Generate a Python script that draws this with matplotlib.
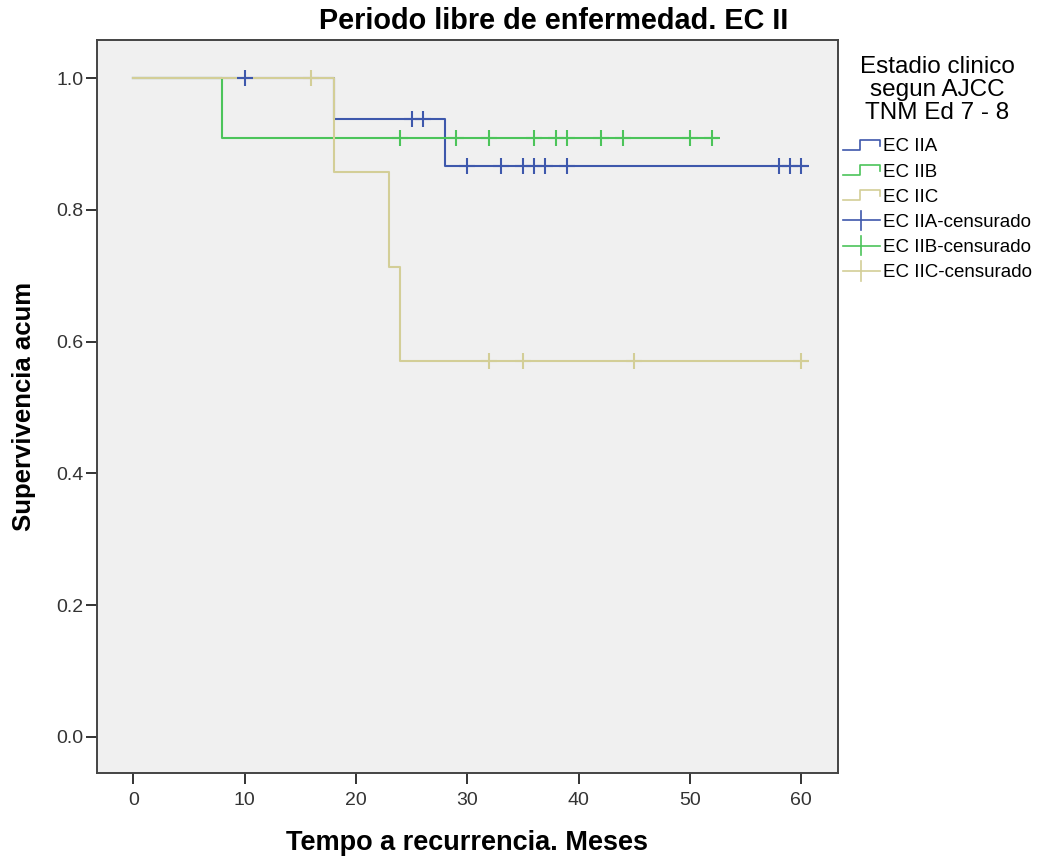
import numpy as np
import matplotlib.pyplot as plt
from matplotlib.legend_handler import HandlerBase
from matplotlib.lines import Line2D

# datos (Kaplan-Meier)
grupos = ["EC IIA", "EC IIB", "EC IIC"]
colores = ["#3e58ac", "#4cc45a", "#d3ce97"]

t_iia = [0, 18, 28]
s_iia = [1.0, 0.9375, 0.866]
cens_iia = [10, 25, 26, 30, 33, 35, 36, 37, 39, 58, 59, 60]
fin_iia = 60.5

t_iib = [0, 8]
s_iib = [1.0, 0.909]
cens_iib = [24, 29, 32, 36, 38, 39, 42, 44, 50, 52]
fin_iib = 52.4

t_iic = [0, 18, 23, 24]
s_iic = [1.0, 0.857, 0.714, 0.571]
cens_iic = [16, 32, 35, 45, 60]
fin_iic = 60.5

tiempos = [t_iia, t_iib, t_iic]
superv = [s_iia, s_iib, s_iic]
censuras = [cens_iia, cens_iib, cens_iic]
finales = [fin_iia, fin_iib, fin_iic]

arial = ["Liberation Sans", "DejaVu Sans"]


class StepHandler(HandlerBase):
    def create_artists(self, legend, orig, xd, yd, w, h, fontsize, trans):
        x = np.array([0, 0.45, 0.45, 1.0, 1.0]) * w - xd
        y = np.array([0.1, 0.1, 0.9, 0.9, 0.45]) * h - yd
        ln = Line2D(x, y, color=orig.get_color(), lw=1.2)
        ln.set_transform(trans)
        return [ln]


class CensHandler(HandlerBase):
    def create_artists(self, legend, orig, xd, yd, w, h, fontsize, trans):
        c = orig.get_color()
        hz = Line2D([-xd, w - xd], [0.5 * h - yd] * 2, color=c, lw=1.2)
        vt = Line2D([0.5 * w - xd] * 2, [-0.25 * h - yd, 1.25 * h - yd], color=c, lw=1.2)
        hz.set_transform(trans)
        vt.set_transform(trans)
        return [hz, vt]


fig = plt.figure(figsize=(10.39, 8.59), dpi=100)
ax = fig.add_axes([0.0934, 0.1001, 0.7131, 0.8533])
ax.set_facecolor("#f0f0f0")

lineas = []
for t, s, fin, c in zip(tiempos, superv, finales, colores):
    ln, = ax.step(t + [fin], s + [s[-1]], where="post", color=c, lw=1.5, zorder=2)
    lineas.append(ln)

marcas = []
for t, s, cen, c in zip(tiempos, superv, censuras, colores):
    idx = np.searchsorted(t, cen, side="right") - 1
    yc = np.array(s)[idx]
    m, = ax.plot(cen, yc, ls="none", marker="+", ms=11, mew=1.5, color=c, zorder=3)
    marcas.append(m)

ax.set_xlim(-3.25, 63.3)
ax.set_ylim(-0.055, 1.058)
ax.set_xticks([0, 10, 20, 30, 40, 50, 60])
ax.set_yticks([0.0, 0.2, 0.4, 0.6, 0.8, 1.0])
ax.set_yticklabels(["0.0", "0.2", "0.4", "0.6", "0.8", "1.0"])
ax.tick_params(direction="out", length=8, width=1.4, color="#333333", labelsize=14, pad=2)
ax.tick_params(axis="x", pad=6)
for lab in ax.get_xticklabels() + ax.get_yticklabels():
    lab.set_family(arial)
    lab.set_color("#333333")
for sp in ax.spines.values():
    sp.set_color("#444444")
    sp.set_linewidth(1.4)

ax.set_xlabel("Tempo a recurrencia. Meses", family=arial, fontsize=19.5,
              fontweight="bold", labelpad=15)
ax.set_ylabel("Supervivencia acum", family=arial, fontsize=18.5,
              fontweight="bold", labelpad=14)
fig.text(0.533, 0.975, "Periodo libre de enfermedad. EC II", ha="center", va="center",
         family=arial, fontsize=20.8, fontweight="bold")

# titulo de la leyenda aparte
fig.text(0.902, 0.895, "Estadio clinico\nsegun AJCC\nTNM Ed 7 - 8", ha="center", va="center",
         family=arial, fontsize=17.5, linespacing=1.05, multialignment="center")

handles = lineas + marcas
labels = grupos + [g + "-censurado" for g in grupos]
hmap = {ln: StepHandler() for ln in lineas}
hmap.update({m: CensHandler() for m in marcas})
leg = fig.legend(handles, labels, loc="upper left", bbox_to_anchor=(0.811, 0.839),
                 frameon=False, handler_map=hmap, handlelength=2.0, handletextpad=0.15,
                 borderpad=0.0, borderaxespad=0.0,
                 labelspacing=0.43, prop={"family": arial, "size": 13.5})

fig.savefig("out.png", dpi=100)
